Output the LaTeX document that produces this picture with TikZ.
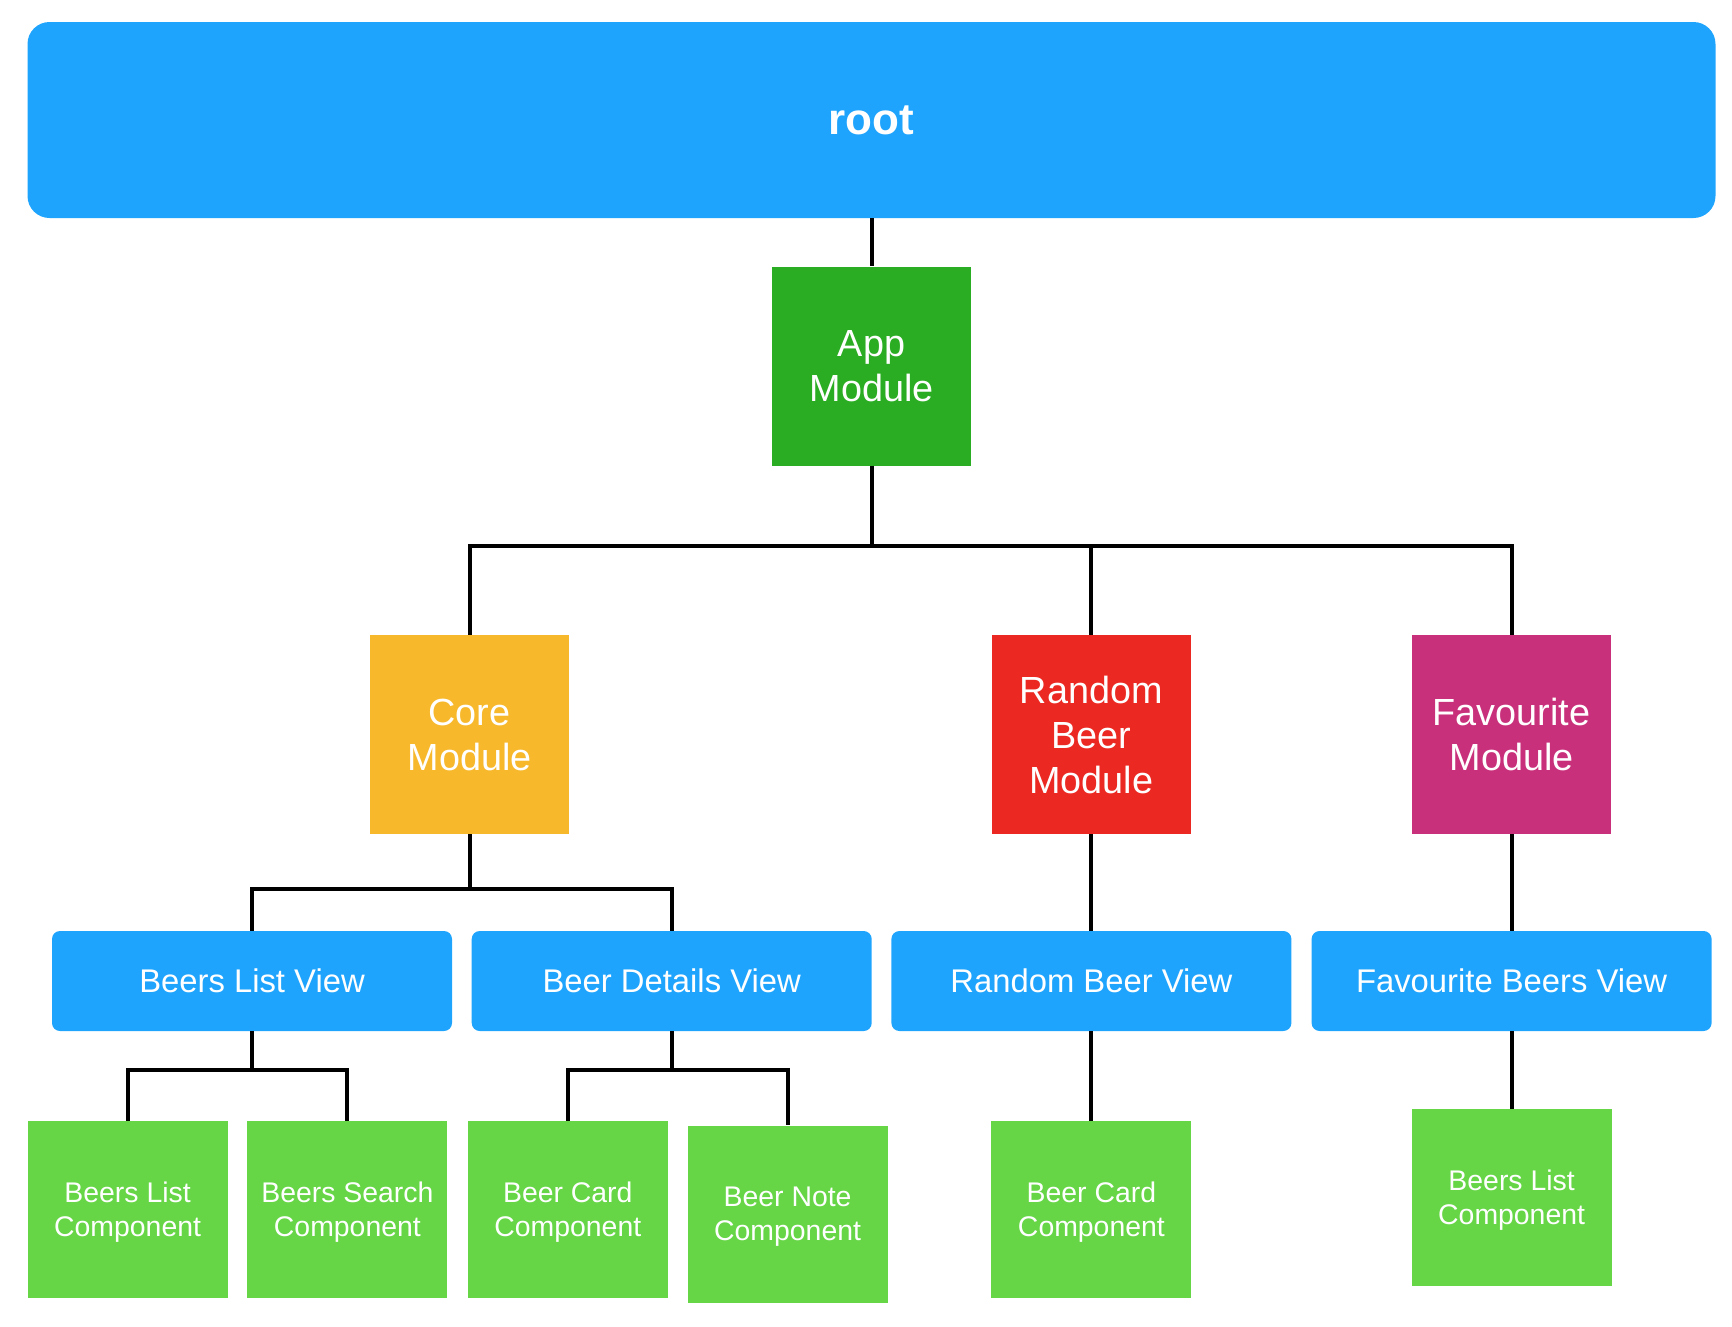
\documentclass[tikz,border=0pt]{standalone}
\usepackage{fontspec}
\setmainfont{Liberation Sans}
\definecolor{rootblue}{RGB}{30,164,253}
\definecolor{appgreen}{RGB}{42,173,34}
\definecolor{coreorange}{RGB}{247,184,44}
\definecolor{randred}{RGB}{235,40,33}
\definecolor{favmag}{RGB}{201,48,123}
\definecolor{compgreen}{RGB}{102,214,70}
\begin{document}
\begin{tikzpicture}[x=1pt,y=-1pt,
  modbox/.style={fill=#1,text=white,minimum width=199pt,minimum height=199pt,inner sep=0pt,align=center,
    text depth=-6pt,font=\fontsize{37.8}{45}\selectfont},
  viewbox/.style={fill=rootblue,text=white,rounded corners=8pt,minimum width=400pt,minimum height=100pt,inner sep=0pt,
    text depth=-2pt,font=\fontsize{32.8}{39}\selectfont},
  compbox/.style={fill=compgreen,text=white,minimum width=200pt,minimum height=177pt,inner sep=0pt,align=center,
    text depth=-2pt,font=\fontsize{28.4}{34}\selectfont},
  link/.style={draw=black,line width=4pt}]
\useasboundingbox (0,0) rectangle (1732,1326);
\node[fill=rootblue,text=white,rounded corners=22pt,minimum width=1688pt,minimum height=196pt,inner sep=0pt,
  text depth=-3pt,font=\fontsize{44}{52}\selectfont\bfseries] (root) at (871.5,120) {root};
\node[modbox=appgreen] (app) at (871.5,366) {App\\Module};
\node[modbox=coreorange] (core) at (469.6,734.5) {Core\\Module};
\node[modbox=randred] (rand) at (1091.4,734.5) {Random\\Beer\\Module};
\node[modbox=favmag] (fav) at (1511.6,734.5) {Favourite\\Module};
\node[viewbox] (blv) at (252,981) {Beers List View};
\node[viewbox] (bdv) at (671.7,981) {Beer Details View};
\node[viewbox] (rbv) at (1091.4,981) {Random Beer View};
\node[viewbox] (fbv) at (1511.6,981) {Favourite Beers View};
\node[compbox] (blc) at (127.6,1209.5) {Beers List\\Component};
\node[compbox] (bsc) at (347.4,1209.5) {Beers Search\\Component};
\node[compbox] (bcc) at (567.8,1209.5) {Beer Card\\Component};
\node[compbox] (bnc) at (787.6,1214) {Beer Note\\Component};
\node[compbox] (rcc) at (1091.4,1209.5) {Beer Card\\Component};
\node[compbox] (flc) at (1511.6,1197.5) {Beers List\\Component};
\coordinate (busA) at (871.5,545.7);
\coordinate (busC) at (469.6,889.2);
\coordinate (busL) at (252,1070.4);
\coordinate (busD) at (671.7,1070.4);
\draw[link] (root.south) -- (app.north);
\draw[link] (app.south) -- (busA);
\draw[link] (busA) -| (core.north);
\draw[link] (busA) -| (rand.north);
\draw[link] (busA) -| (fav.north);
\draw[link] (core.south) -- (busC);
\draw[link] (busC) -| (blv.north);
\draw[link] (busC) -| (bdv.north);
\draw[link] (blv.south) -- (busL);
\draw[link] (busL) -| (blc.north);
\draw[link] (busL) -| (bsc.north);
\draw[link] (bdv.south) -- (busD);
\draw[link] (busD) -| (bcc.north);
\draw[link] (busD) -| (bnc.north);
\draw[link] (rand.south) -- (rbv.north);
\draw[link] (rbv.south) -- (rcc.north);
\draw[link] (fav.south) -- (fbv.north);
\draw[link] (fbv.south) -- (flc.north);
\end{tikzpicture}
\end{document}
